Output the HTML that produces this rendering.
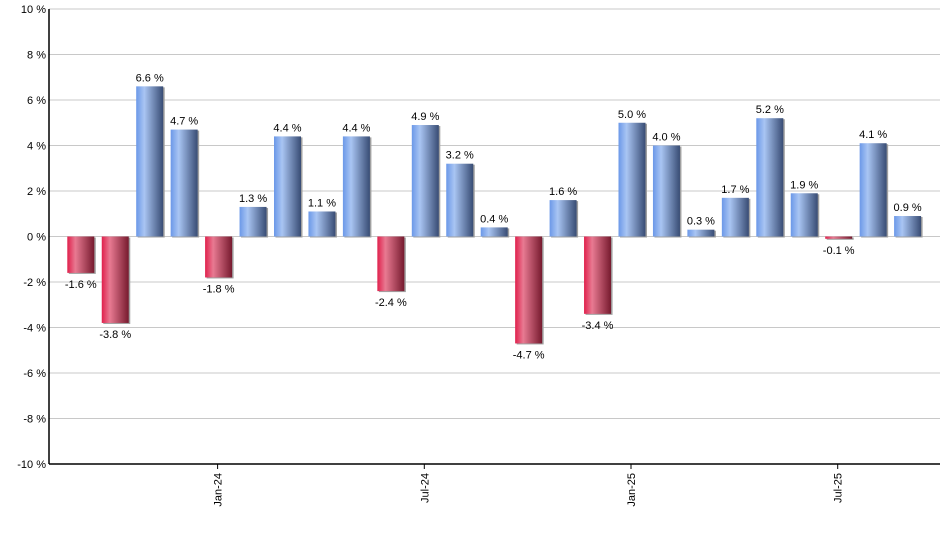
<!DOCTYPE html>
<html><head><meta charset="utf-8"><style>
body{margin:0;background:#fff;font-family:"Liberation Sans",Arial,sans-serif}
svg text{font-family:"Liberation Sans",Arial,sans-serif;font-size:11px;fill:#000}
</style></head><body>
<svg id="chart" width="940" height="550" xmlns="http://www.w3.org/2000/svg">
<defs>
<linearGradient id="gb" x1="0" x2="1" y1="0" y2="0">
<stop offset="0" stop-color="#6b98e8"/><stop offset="0.3" stop-color="#a9c5f3"/><stop offset="1" stop-color="#384c74"/></linearGradient>
<linearGradient id="gr" x1="0" x2="1" y1="0" y2="0">
<stop offset="0" stop-color="#e0204c"/><stop offset="0.3" stop-color="#e87a92"/><stop offset="1" stop-color="#761a2e"/></linearGradient>
</defs>
<g id="grid"></g>
<g id="bars"></g>
<g id="axes"></g>
</svg>
<script>
const months = ["Sep-23","Oct-23","Nov-23","Dec-23","Jan-24","Feb-24","Mar-24","Apr-24","May-24","Jun-24","Jul-24","Aug-24","Sep-24","Oct-24","Nov-24","Dec-24","Jan-25","Feb-25","Mar-25","Apr-25","May-25","Jun-25","Jul-25","Aug-25","Sep-25"];
const values = [-1.6,-3.8,6.6,4.7,-1.8,1.3,4.4,1.1,4.4,-2.4,4.9,3.2,0.4,-4.7,1.6,-3.4,5.0,4.0,0.3,1.7,5.2,1.9,-0.1,4.1,0.9];
const yTicks = [10,8,6,4,2,0,-2,-4,-6,-8,-10];
const xTickLabels = ["Jan-24","Jul-24","Jan-25","Jul-25"];

const NS="http://www.w3.org/2000/svg";
const L=49,R=940,T=9,B=464;
const y=v=>T+(10-v)/20*(B-T);
const step=34.45, x0=80.8, bw=27;
const x=i=>x0+i*step;
function mk(tag,attrs,parent){const e=document.createElementNS(NS,tag);for(const k in attrs)e.setAttribute(k,attrs[k]);parent.appendChild(e);return e;}
const grid=document.getElementById('grid'),bars=document.getElementById('bars'),axes=document.getElementById('axes');
yTicks.forEach(t=>{
  const ln=mk('line',{x1:L,x2:R,y1:y(t),y2:y(t),stroke:'#c8c8c8','stroke-width':1},grid);
  
  
  const tx=mk('text',{x:L-3,y:y(t)+4,'text-anchor':'end'},axes);
  tx.textContent=t+' %';
  
  
});
values.forEach((v,i)=>{
  const top=Math.min(y(v),y(0)),h=Math.abs(y(v)-y(0));
  const sh=mk('rect',{x:x(i)-bw/2+1.5,y:top+1,width:bw,height:h,fill:'#a0a0a0'},bars);
  
  
  const r=mk('rect',{x:x(i)-bw/2,y:top,width:bw,height:h,fill:v>=0?'url(#gb)':'url(#gr)'},bars);
  
  
  const lb=mk('text',{x:x(i),y:v>=0?y(v)-5:y(v)+15,'text-anchor':'middle'},bars);
  lb.textContent=v.toFixed(1)+' %';
  
  
});
const ax=mk('line',{x1:L,x2:L,y1:T,y2:B,stroke:'#000','stroke-width':1.5},axes);


const bx=mk('line',{x1:L,x2:R,y1:B,y2:B,stroke:'#000','stroke-width':1.5},axes);


xTickLabels.forEach(m=>{
  const i=months.indexOf(m);const cx=x(i)-1;
  const tk=mk('line',{x1:cx,x2:cx,y1:B,y2:B+5,stroke:'#000'},axes);
  
  
  const t=mk('text',{x:cx+4,y:B+9,'text-anchor':'end',transform:`rotate(-90 ${cx+4} ${B+9})`},axes);
  t.textContent=m;
  
  
});
</script>
</body></html>
